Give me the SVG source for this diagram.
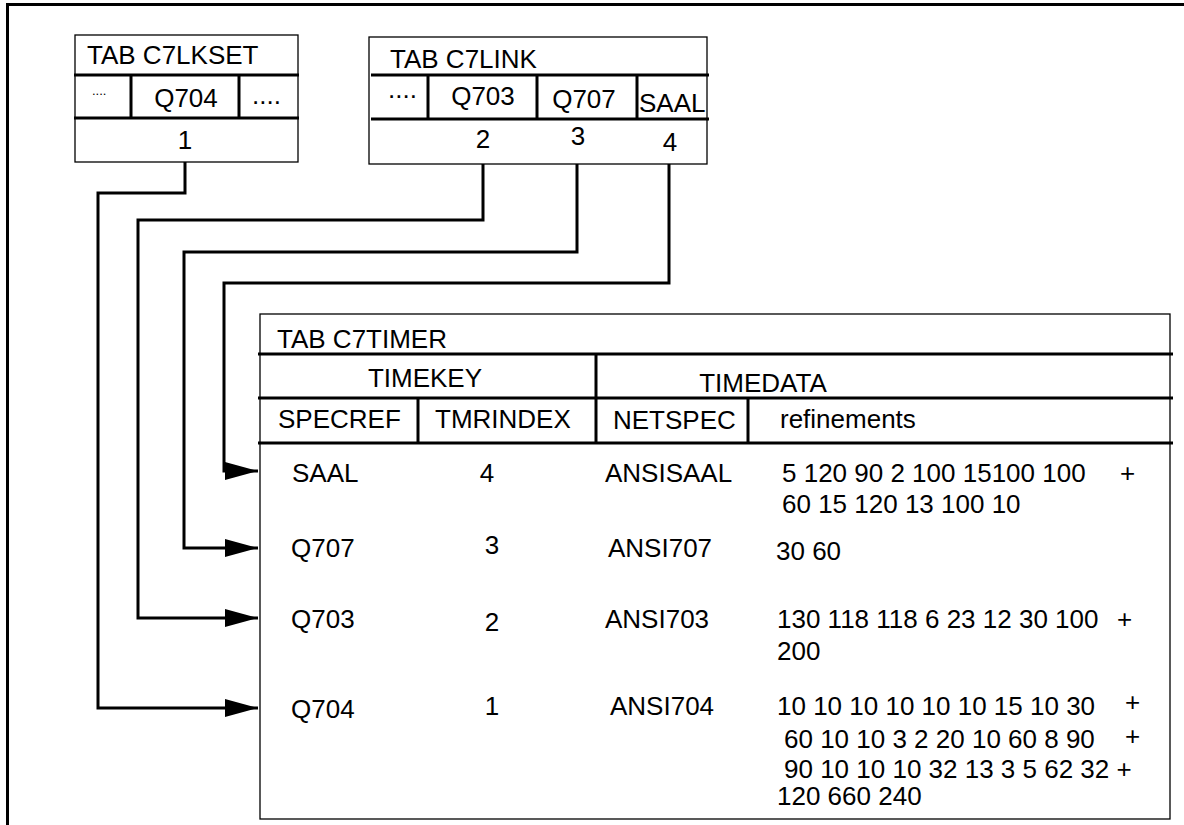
<svg xmlns="http://www.w3.org/2000/svg" width="1184" height="825" viewBox="0 0 1184 825">
<defs>
<style>
text{font-family:"Liberation Sans",Arial,sans-serif;font-size:26px;fill:#000}
.c{text-anchor:middle}
.sm{font-size:13px}
.box{fill:#fff;stroke:#000;stroke-width:1.3}
.thick{stroke:#000;stroke-width:3;fill:none}
.conn{stroke:#000;stroke-width:3;fill:none}
</style>
<marker id="arr" markerUnits="userSpaceOnUse" markerWidth="34" markerHeight="20" refX="33" refY="9" orient="auto" viewBox="0 0 34 20">
<path d="M0,0 L33,9 L0,18 Z" fill="#000"/>
</marker>
</defs>
<rect width="1184" height="825" fill="#fff"/>
<path d="M7.5,825 V4.5 H1184" fill="none" stroke="#000" stroke-width="3"/>

<g id="c7lkset">
<rect class="box" x="75" y="35" width="223" height="127"/>
<path class="thick" d="M74,75 H299 M74,118 H299 M131,75 V118 M239,75 V118"/>
<text x="87" y="64">TAB C7LKSET</text>
<text class="sm" x="92" y="95">....</text>
<text class="c" x="186" y="107">Q704</text>
<text x="252" y="104">....</text>
<text class="c" x="185" y="149">1</text>
</g>

<g id="c7link">
<rect class="box" x="369" y="37" width="338" height="127"/>
<path class="thick" d="M371,75 H709 M371,119 H709 M428,75 V119 M537,75 V119 M637,75 V119"/>
<text x="390" y="68">TAB C7LINK</text>
<text x="388" y="98">....</text>
<text class="c" x="483" y="105">Q703</text>
<text class="c" x="584" y="108">Q707</text>
<text x="639" y="112">SAAL</text>
<text class="c" x="483" y="148">2</text>
<text class="c" x="578" y="145">3</text>
<text class="c" x="670" y="151">4</text>
</g>

<g id="c7timer">
<rect class="box" x="260" y="314" width="910" height="505"/>
<path class="thick" d="M258,354 H1173 M258,398 H1173 M258,443 H1173 M596,354 V443 M418,398 V443 M748,398 V443"/>
<text x="277" y="348">TAB C7TIMER</text>
<text class="c" x="425" y="387">TIMEKEY</text>
<text class="c" x="763" y="392">TIMEDATA</text>
<text x="278" y="428">SPECREF</text>
<text x="435" y="428">TMRINDEX</text>
<text x="613" y="429">NETSPEC</text>
<text x="780" y="428">refinements</text>

<text x="292" y="482">SAAL</text>
<text class="c" x="487" y="482">4</text>
<text x="605" y="482">ANSISAAL</text>
<text x="782" y="482">5 120 90 2 100 15100 100</text>
<text x="1120" y="482">+</text>
<text x="782" y="513">60 15 120 13 100 10</text>

<text x="291" y="557">Q707</text>
<text class="c" x="492" y="554">3</text>
<text x="608" y="557">ANSI707</text>
<text x="776" y="560">30 60</text>

<text x="291" y="628">Q703</text>
<text class="c" x="492" y="631">2</text>
<text x="605" y="628">ANSI703</text>
<text x="777" y="628">130 118 118 6 23 12 30 100</text>
<text x="1117" y="628">+</text>
<text x="777" y="660">200</text>

<text x="291" y="718">Q704</text>
<text class="c" x="492" y="715">1</text>
<text x="610" y="715">ANSI704</text>
<text x="777" y="715">10 10 10 10 10 10 15 10 30</text>
<text x="1125" y="711">+</text>
<text x="784" y="748">60 10 10 3 2 20 10 60 8 90</text>
<text x="1125" y="745">+</text>
<text x="784" y="778">90 10 10 10 32 13 3 5 62 32 +</text>
<text x="777" y="805">120 660 240</text>
</g>

<g id="connectors">
<path class="conn" marker-end="url(#arr)" d="M185,162 V193 H98 V708 H258"/>
<path class="conn" marker-end="url(#arr)" d="M483,164 V220 H138 V618 H258"/>
<path class="conn" marker-end="url(#arr)" d="M577,164 V252 H184 V548 H258"/>
<path class="conn" marker-end="url(#arr)" d="M669,164 V283 H224 V471 H258"/>
</g>
</svg>
